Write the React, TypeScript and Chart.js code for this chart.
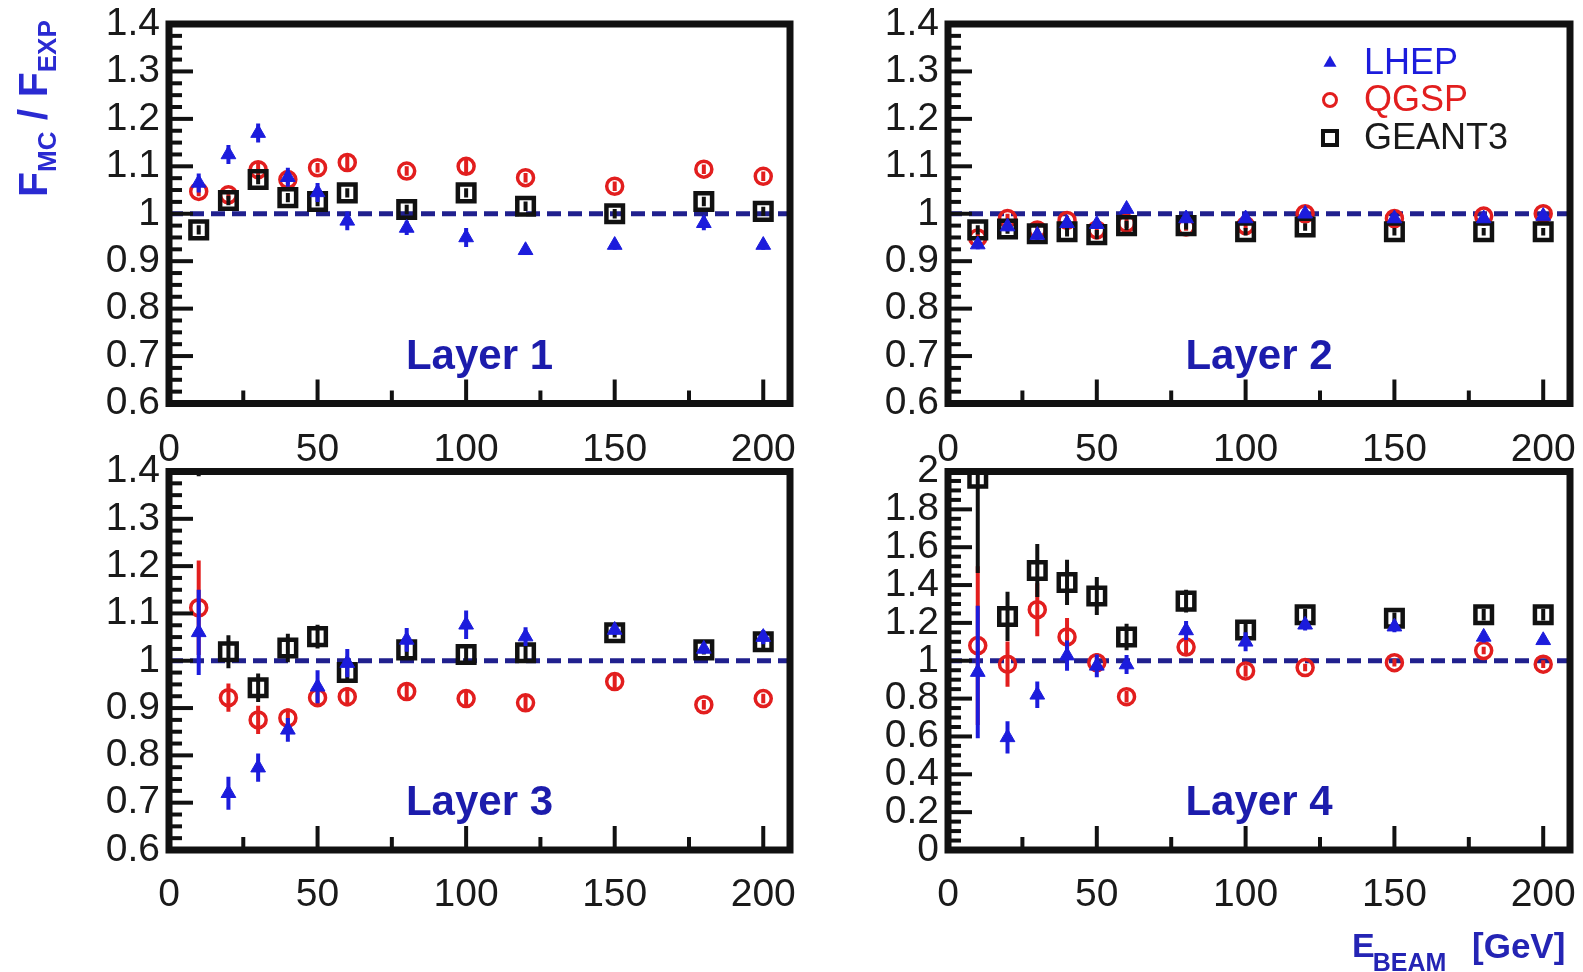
import React, { useEffect, useRef } from 'react';
import { Chart, registerables } from 'chart.js';

Chart.register(...registerables);

const FONT = "'Liberation Sans', Arial, Helvetica, sans-serif";
const BLUE = '#1c1cdc';
const RED = '#e21e1e';
const BLACK = '#111111';
const NAVY = '#20208e';
const TEXT_BLUE = '#1c1cac';

// ---------- data ----------
const energies = [10, 20, 30, 40, 50, 60, 80, 100, 120, 150, 180, 200];
const seriesNames = ['LHEP', 'QGSP', 'GEANT3'];
const unityValue = 1;

const xTicks = [0, 50, 100, 150, 200];
const xTickLabels = ['0', '50', '100', '150', '200'];
const yTicksRatio = [0.6, 0.7, 0.8, 0.9, 1.0, 1.1, 1.2, 1.3, 1.4];
const yTickLabelsRatio = ['0.6', '0.7', '0.8', '0.9', '1', '1.1', '1.2', '1.3', '1.4'];
const yTicksL4 = [0, 0.2, 0.4, 0.6, 0.8, 1.0, 1.2, 1.4, 1.6, 1.8, 2.0];
const yTickLabelsL4 = ['0', '0.2', '0.4', '0.6', '0.8', '1', '1.2', '1.4', '1.6', '1.8', '2'];

// Layer 1
const l1Lhep = [1.065, 1.125, 1.17, 1.077, 1.045, 0.985, 0.97, 0.95, 0.923, 0.934, 0.98, 0.934];
const l1LhepErr = [0.02, 0.02, 0.02, 0.02, 0.02, 0.02, 0.015, 0.02, 0.01, 0.01, 0.015, 0.01];
const l1Qgsp = [1.047, 1.04, 1.093, 1.072, 1.097, 1.108, 1.09, 1.1, 1.076, 1.058, 1.094, 1.079];
const l1QgspErr = [0.01, 0.01, 0.015, 0.01, 0.01, 0.015, 0.01, 0.015, 0.01, 0.01, 0.01, 0.01];
const l1Geant = [0.966, 1.028, 1.072, 1.034, 1.026, 1.044, 1.009, 1.044, 1.016, 1.0, 1.026, 1.005];
const l1GeantErr = [0.01, 0.01, 0.01, 0.01, 0.01, 0.01, 0.01, 0.01, 0.01, 0.01, 0.01, 0.01];

// Layer 2
const l2Lhep = [0.935, 0.973, 0.955, 0.98, 0.978, 1.01, 0.99, 0.99, 1.0, 0.99, 0.99, 0.995];
const l2LhepErr = [0.01, 0.01, 0.01, 0.01, 0.01, 0.01, 0.008, 0.008, 0.008, 0.008, 0.008, 0.008];
const l2Qgsp = [0.949, 0.99, 0.966, 0.986, 0.966, 0.98, 0.972, 0.975, 1.0, 0.99, 0.995, 1.0];
const l2QgspErr = [0.01, 0.01, 0.01, 0.01, 0.01, 0.01, 0.008, 0.008, 0.008, 0.008, 0.008, 0.008];
const l2Geant = [0.966, 0.968, 0.958, 0.962, 0.956, 0.975, 0.975, 0.962, 0.972, 0.962, 0.962, 0.962];
const l2GeantErr = [0.01, 0.01, 0.01, 0.01, 0.01, 0.01, 0.008, 0.008, 0.008, 0.008, 0.008, 0.008];

// Layer 3
const l3Lhep = [1.06, 0.72, 0.774, 0.854, 0.945, 0.995, 1.044, 1.076, 1.051, 1.065, 1.025, 1.05];
const l3LhepErr = [0.09, 0.035, 0.03, 0.025, 0.035, 0.03, 0.025, 0.03, 0.02, 0.01, 0.01, 0.015];
const l3Qgsp = [1.112, 0.922, 0.875, 0.879, 0.922, 0.924, 0.935, 0.92, 0.911, 0.956, 0.907, 0.92];
const l3QgspErr = [0.1, 0.03, 0.03, 0.02, 0.02, 0.02, 0.02, 0.015, 0.015, 0.015, 0.01, 0.01];
const l3Geant = [1.47, 1.019, 0.943, 1.027, 1.051, 0.975, 1.023, 1.013, 1.017, 1.059, 1.023, 1.04];
const l3GeantErr = [0.08, 0.035, 0.03, 0.03, 0.025, 0.02, 0.02, 0.02, 0.02, 0.01, 0.01, 0.015];

// Layer 4
const l4Lhep = [0.94, 0.595, 0.82, 1.027, 0.973, 0.98, 1.16, 1.1, 1.19, 1.18, 1.126, 1.108];
const l4LhepErr = [0.35, 0.085, 0.07, 0.08, 0.06, 0.05, 0.05, 0.05, 0.03, 0.03, 0.03, 0.02];
const l4Qgsp = [1.08, 0.982, 1.27, 1.126, 0.99, 0.81, 1.072, 0.946, 0.964, 0.99, 1.054, 0.982];
const l4QgspErr = [0.42, 0.12, 0.14, 0.1, 0.05, 0.03, 0.04, 0.03, 0.02, 0.02, 0.02, 0.02];
const l4Geant = [1.964, 1.234, 1.477, 1.414, 1.342, 1.126, 1.315, 1.162, 1.243, 1.225, 1.243, 1.243];
const l4GeantErr = [0.5, 0.13, 0.14, 0.12, 0.1, 0.07, 0.06, 0.05, 0.03, 0.03, 0.03, 0.03];

// ---------- drawing ----------
type Area = { left: number; top: number; right: number; bottom: number };
type PanelProps = {
  title: string;
  series: { vals: (number | null)[]; errs: number[] }[];
  yMin: number;
  yMax: number;
  yTicks: number[];
  yLabels: string[];
  yMinorDiv: number;
  left: number;
  top: number;
  width: number;
  height: number;
  area: Area;
  xLabelPad: number;
  legend?: boolean;
  yTitle?: boolean;
  xTitle?: boolean;
};

const styles = [
  { style: 'triangle', fill: BLUE, stroke: BLUE, radius: 8.5, bw: 1, order: 0 },
  { style: 'circle', fill: 'rgba(0,0,0,0)', stroke: RED, radius: 8, bw: 3.5, order: 2 },
  { style: 'rect', fill: 'rgba(0,0,0,0)', stroke: BLACK, radius: 11.7, bw: 4.5, order: 1 },
];

function drawMarker(ctx: CanvasRenderingContext2D, idx: number, x: number, y: number) {
  ctx.save();
  if (idx === 0) {
    const r = 7.5;
    ctx.fillStyle = BLUE;
    ctx.beginPath();
    for (let k = 0; k < 3; k++) {
      const a = (k * 2 * Math.PI) / 3;
      const px = x + Math.sin(a) * r;
      const py = y - Math.cos(a) * r;
      if (k === 0) ctx.moveTo(px, py);
      else ctx.lineTo(px, py);
    }
    ctx.closePath();
    ctx.fill();
  } else if (idx === 1) {
    ctx.strokeStyle = RED;
    ctx.lineWidth = 3;
    ctx.beginPath();
    ctx.arc(x, y, 6.5, 0, Math.PI * 2);
    ctx.stroke();
  } else {
    ctx.strokeStyle = BLACK;
    ctx.lineWidth = 4;
    ctx.strokeRect(x - 7, y - 7, 14, 14);
  }
  ctx.restore();
}

function Panel(p: PanelProps) {
  const ref = useRef<HTMLCanvasElement>(null);
  useEffect(() => {
    const canvas = ref.current;
    if (!canvas) return;
    const datasets = p.series.map((s, i) => ({
      label: seriesNames[i],
      data: energies
        .map((x, j) => ({ x, y: s.vals[j], e: s.errs[j] }))
        .filter((d) => d.y !== null && d.y !== undefined),
      pointStyle: styles[i].style,
      pointRadius: styles[i].radius,
      pointHoverRadius: styles[i].radius,
      backgroundColor: styles[i].fill,
      borderColor: styles[i].stroke,
      pointBorderWidth: styles[i].bw,
      borderWidth: styles[i].bw,
      showLine: false,
      order: styles[i].order,
      clip: 3,
    }));

    const framePlugin = {
      id: 'frame' + p.title.replace(' ', ''),
      beforeDatasetsDraw(chart: any) {
        const { ctx, chartArea: a, scales } = chart;
        // layer label
        ctx.save();
        ctx.font = `bold 42px ${FONT}`;
        ctx.fillStyle = TEXT_BLUE;
        ctx.textAlign = 'center';
        ctx.textBaseline = 'alphabetic';
        ctx.fillText(p.title, (a.left + a.right) / 2, a.bottom - 35);
        ctx.restore();
        // dashed unity line
        const yy = scales.y.getPixelForValue(unityValue);
        ctx.save();
        ctx.strokeStyle = NAVY;
        ctx.lineWidth = 5;
        ctx.setLineDash([14, 7]);
        ctx.beginPath();
        ctx.moveTo(a.left, yy);
        ctx.lineTo(a.right, yy);
        ctx.stroke();
        ctx.restore();
      },
      beforeDatasetDraw(chart: any, args: any) {
        const { ctx, chartArea: a, scales } = chart;
        const ds = chart.data.datasets[args.index];
        ctx.save();
        ctx.beginPath();
        ctx.rect(a.left, a.top, a.right - a.left, a.bottom - a.top);
        ctx.clip();
        ctx.strokeStyle = ds.borderColor;
        ctx.lineWidth = 4;
        for (const d of ds.data) {
          if (!d.e) continue;
          const px = scales.x.getPixelForValue(d.x);
          ctx.beginPath();
          ctx.moveTo(px, scales.y.getPixelForValue(d.y - d.e));
          ctx.lineTo(px, scales.y.getPixelForValue(d.y + d.e));
          ctx.stroke();
        }
        ctx.restore();
      },
      afterDatasetsDraw(chart: any) {
        const { ctx, chartArea: a, scales } = chart;
        ctx.save();
        ctx.strokeStyle = BLACK;
        ctx.lineWidth = 4;
        ctx.lineCap = 'butt';
        // x ticks (inward)
        for (let i = 0; i < xTicks.length; i++) {
          const px = scales.x.getPixelForValue(xTicks[i]);
          ctx.beginPath();
          ctx.moveTo(px, a.bottom);
          ctx.lineTo(px, a.bottom - 24);
          ctx.stroke();
          if (i < xTicks.length - 1) {
            const mid = scales.x.getPixelForValue((xTicks[i] + xTicks[i + 1]) / 2);
            ctx.beginPath();
            ctx.moveTo(mid, a.bottom);
            ctx.lineTo(mid, a.bottom - 13);
            ctx.stroke();
          }
        }
        // y ticks (inward)
        for (let i = 0; i < p.yTicks.length; i++) {
          const py = scales.y.getPixelForValue(p.yTicks[i]);
          ctx.beginPath();
          ctx.moveTo(a.left, py);
          ctx.lineTo(a.left + 24, py);
          ctx.stroke();
          if (i < p.yTicks.length - 1) {
            for (let k = 1; k < p.yMinorDiv; k++) {
              const v = p.yTicks[i] + ((p.yTicks[i + 1] - p.yTicks[i]) * k) / p.yMinorDiv;
              const q = scales.y.getPixelForValue(v);
              ctx.beginPath();
              ctx.moveTo(a.left, q);
              ctx.lineTo(a.left + 13, q);
              ctx.stroke();
            }
          }
        }
        // frame
        ctx.lineWidth = 7;
        ctx.lineJoin = 'miter';
        ctx.strokeRect(a.left, a.top, a.right - a.left, a.bottom - a.top);
        ctx.restore();

        if (p.legend) {
          const colors = [BLUE, RED, '#1a1a1a'];
          const rows = [63, 100, 138];
          ctx.save();
          ctx.font = `36px ${FONT}`;
          ctx.textBaseline = 'middle';
          ctx.textAlign = 'left';
          for (let i = 0; i < 3; i++) {
            drawMarker(ctx, i, a.right - 240, rows[i]);
            ctx.fillStyle = colors[i];
            ctx.fillText(seriesNames[i], a.right - 206, rows[i] + 1);
          }
          ctx.restore();
        }
      },
      afterDraw(chart: any) {
        const { ctx } = chart;
        if (p.yTitle) {
          ctx.save();
          ctx.translate(47, 197);
          ctx.rotate(-Math.PI / 2);
          ctx.fillStyle = '#2a2ad2';
          ctx.textBaseline = 'alphabetic';
          ctx.textAlign = 'left';
          let x = 0;
          const big = `bold 41px ${FONT}`;
          const small = `bold 26px ${FONT}`;
          const parts: [string, string, number][] = [
            ['F', big, 0],
            ['MC', small, 9],
            [' / ', big, 0],
            ['F', big, 0],
            ['EXP', small, 9],
          ];
          for (const [t, f, dy] of parts) {
            ctx.font = f;
            ctx.fillText(t, x, dy);
            x += ctx.measureText(t).width;
          }
          ctx.restore();
        }
        if (p.xTitle) {
          ctx.save();
          ctx.fillStyle = '#2424b4';
          ctx.textBaseline = 'alphabetic';
          ctx.textAlign = 'left';
          const baseY = 957 - p.top;
          const startX = 1352 - p.left;
          ctx.font = `bold 34px ${FONT}`;
          ctx.fillText('E', startX, baseY);
          const w = ctx.measureText('E').width;
          ctx.font = `bold 25px ${FONT}`;
          ctx.fillText('BEAM', startX + w - 2, baseY + 14);
          ctx.font = `bold 35px ${FONT}`;
          ctx.fillText('[GeV]', 1472 - p.left, baseY + 1);
          ctx.restore();
        }
      },
    };

    const a = p.area;
    const chart = new Chart(canvas, {
      type: 'scatter',
      data: { datasets: datasets as any },
      plugins: [framePlugin],
      options: {
        animation: false,
        responsive: false,
        maintainAspectRatio: false,
        devicePixelRatio: 1,
        events: [],
        layout: {
          autoPadding: false,
          padding: { left: 0, top: a.top, right: p.width - a.right, bottom: 0 },
        },
        plugins: { legend: { display: false }, tooltip: { enabled: false } },
        scales: {
          x: {
            type: 'linear',
            position: 'bottom',
            min: 0,
            max: 209,
            grid: { display: false, drawTicks: false },
            border: { display: false },
            afterBuildTicks: (s: any) => {
              s.ticks = xTicks.map((v) => ({ value: v }));
            },
            afterFit: (s: any) => {
              s.height = p.height - a.bottom;
              s.paddingLeft = 0;
              s.paddingRight = 0;
              s.paddingTop = 0;
              s.paddingBottom = 0;
            },
            ticks: {
              autoSkip: false,
              maxRotation: 0,
              minRotation: 0,
              padding: p.xLabelPad,
              color: '#1a1a1a',
              font: { family: FONT, size: 39 },
              callback: (_v: any, i: number) => xTickLabels[i],
            },
          },
          y: {
            type: 'linear',
            position: 'left',
            min: p.yMin,
            max: p.yMax,
            grid: { display: false, drawTicks: false },
            border: { display: false },
            afterBuildTicks: (s: any) => {
              s.ticks = p.yTicks.map((v) => ({ value: v }));
            },
            afterFit: (s: any) => {
              s.width = a.left;
              s.paddingLeft = 0;
              s.paddingRight = 0;
              s.paddingTop = 0;
              s.paddingBottom = 0;
            },
            ticks: {
              autoSkip: false,
              padding: 9,
              color: '#1a1a1a',
              font: { family: FONT, size: 39 },
              callback: (_v: any, i: number) => p.yLabels[i],
            },
          },
        },
      } as any,
    });
    return () => chart.destroy();
  }, []);
  return (
    <canvas
      ref={ref}
      width={p.width}
      height={p.height}
      style={{ position: 'absolute', left: p.left, top: p.top, width: p.width, height: p.height }}
    />
  );
}

export default function App() {
  const topArea = { left: 169, top: 24, right: 790, bottom: 403.5 };
  const topArea2 = { left: 148, top: 24, right: 770, bottom: 403.5 };
  const botArea = { left: 169, top: 31.5, right: 790, bottom: 410 };
  const botArea2 = { left: 148, top: 31.5, right: 770, bottom: 410 };
  return (
    <div style={{ position: 'absolute', left: 0, top: 0, width: 1583, height: 972, background: '#fff', overflow: 'hidden' }}>
      <Panel
        title="Layer 1"
        series={[
          { vals: l1Lhep, errs: l1LhepErr },
          { vals: l1Qgsp, errs: l1QgspErr },
          { vals: l1Geant, errs: l1GeantErr },
        ]}
        yMin={0.6}
        yMax={1.4}
        yTicks={yTicksRatio}
        yLabels={yTickLabelsRatio}
        yMinorDiv={4}
        left={0}
        top={0}
        width={800}
        height={470}
        area={topArea}
        xLabelPad={23}
        yTitle
      />
      <Panel
        title="Layer 2"
        series={[
          { vals: l2Lhep, errs: l2LhepErr },
          { vals: l2Qgsp, errs: l2QgspErr },
          { vals: l2Geant, errs: l2GeantErr },
        ]}
        yMin={0.6}
        yMax={1.4}
        yTicks={yTicksRatio}
        yLabels={yTickLabelsRatio}
        yMinorDiv={4}
        left={800}
        top={0}
        width={783}
        height={470}
        area={topArea2}
        xLabelPad={23}
        legend
      />
      <Panel
        title="Layer 3"
        series={[
          { vals: l3Lhep, errs: l3LhepErr },
          { vals: l3Qgsp, errs: l3QgspErr },
          { vals: l3Geant, errs: l3GeantErr },
        ]}
        yMin={0.6}
        yMax={1.4}
        yTicks={yTicksRatio}
        yLabels={yTickLabelsRatio}
        yMinorDiv={4}
        left={0}
        top={440}
        width={800}
        height={532}
        area={botArea}
        xLabelPad={22}
      />
      <Panel
        title="Layer 4"
        series={[
          { vals: l4Lhep, errs: l4LhepErr },
          { vals: l4Qgsp, errs: l4QgspErr },
          { vals: l4Geant, errs: l4GeantErr },
        ]}
        yMin={0}
        yMax={2}
        yTicks={yTicksL4}
        yLabels={yTickLabelsL4}
        yMinorDiv={4}
        left={800}
        top={440}
        width={783}
        height={532}
        area={botArea2}
        xLabelPad={22}
        xTitle
      />
    </div>
  );
}
